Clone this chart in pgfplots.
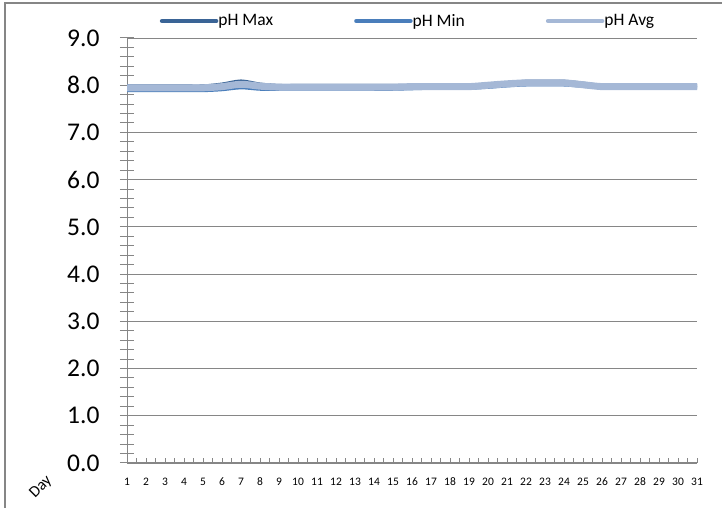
\documentclass[border=0pt]{standalone}
\usepackage{pgfplots}
\pgfplotsset{compat=1.18}
\usepackage{fontspec}
\setmainfont{Carlito}
\definecolor{phmax}{HTML}{3A6496}
\definecolor{phmin}{HTML}{4A7EBB}
\definecolor{phavg}{HTML}{A5B8D6}
\definecolor{axgray}{HTML}{868686}
\begin{document}
\begin{tikzpicture}
\path[use as bounding box] (0pt,0pt) rectangle (722pt,508pt);
% x axis with its short ticks and labels
\begin{axis}[
  at={(127pt,45pt)}, anchor=south west,
  scale only axis, width=570pt, height=425pt,
  xmin=1, xmax=31, ymin=0, ymax=9,
  axis x line*=bottom, axis y line=none,
  axis line style={axgray, line width=1pt},
  xtick={1,...,31},
  minor x tick num=1,
  xtick align=inside,
  major tick length=5pt, minor tick length=5pt,
  tick style={axgray, line width=1pt},
  x tick label style={font=\fontsize{11.5}{14}\selectfont, yshift=-11pt, text height=1.6ex, text depth=0pt},
  /pgf/number format/assume math mode=true,
]
\end{axis}
% main axis: y axis, grid and data
\begin{axis}[
  at={(127pt,45pt)}, anchor=south west,
  scale only axis, width=570pt, height=425pt,
  xmin=1, xmax=31, ymin=0, ymax=9,
  axis x line=none, axis y line*=left,
  axis line style={axgray, line width=1pt},
  xtick=\empty,
  ytick={0,1,...,9},
  minor y tick num=4,
  ymajorgrids,
  grid style={axgray, line width=0.8pt},
  major grid style={axgray, line width=0.8pt},
  ytick align=center,
  major tick length=14pt, minor tick length=14pt,
  tick style={axgray, line width=1pt},
  y tick label style={font=\fontsize{25.5}{30}\selectfont, xshift=-17pt},
  yticklabel style={/pgf/number format/.cd, fixed, fixed zerofill, precision=1},
  /pgf/number format/assume math mode=true,
  legend style={draw=none, fill=none, at={(0.493,1.04)}, anchor=center,
    font=\fontsize{17.5}{20}\selectfont, legend columns=3,
    /tikz/every odd column/.append style={column sep=-2pt},
    /tikz/every even column/.append style={column sep=79pt}},
  legend image code/.code={\draw[#1, line width=4.5pt, line cap=round] (0pt,0pt) -- (54pt,0pt);},
]
\addplot[phmax, line width=3.5pt, smooth, tension=0.5] coordinates {
(1,7.98)(2,7.98)(3,7.98)(4,7.98)(5,7.98)(6,8.02)(7,8.085)(8,8.02)(9,7.99)(10,7.99)
(11,7.99)(12,7.99)(13,7.99)(14,7.99)(15,7.99)(16,7.99)(17,7.99)(18,7.99)(19,7.99)(20,8.02)
(21,8.05)(22,8.08)(23,8.08)(24,8.08)(25,8.04)(26,7.99)(27,7.99)(28,7.99)(29,7.99)(30,7.99)(31,7.99)};
\addlegendentry{pH Max}
\addplot[phmin, line width=3.5pt, smooth, tension=0.5] coordinates {
(1,7.89)(2,7.89)(3,7.89)(4,7.89)(5,7.89)(6,7.91)(7,7.95)(8,7.92)(9,7.92)(10,7.92)
(11,7.92)(12,7.92)(13,7.92)(14,7.92)(15,7.92)(16,7.93)(17,7.94)(18,7.94)(19,7.94)(20,7.96)
(21,7.99)(22,8.01)(23,8.01)(24,8.01)(25,7.98)(26,7.95)(27,7.95)(28,7.95)(29,7.95)(30,7.95)(31,7.95)};
\addlegendentry{pH Min}
\addplot[phavg, line width=7pt, smooth, tension=0.5] coordinates {
(1,7.945)(2,7.945)(3,7.945)(4,7.945)(5,7.945)(6,7.97)(7,8.02)(8,7.98)(9,7.96)(10,7.96)
(11,7.96)(12,7.96)(13,7.96)(14,7.96)(15,7.96)(16,7.97)(17,7.97)(18,7.97)(19,7.97)(20,8.00)
(21,8.03)(22,8.05)(23,8.05)(24,8.05)(25,8.01)(26,7.97)(27,7.97)(28,7.97)(29,7.97)(30,7.97)(31,7.97)};
\addlegendentry{pH Avg}
\end{axis}
\draw[axgray,line width=2.5pt] (5pt,0pt) -- (5pt,505pt) -- (722pt,505pt);
\node[rotate=45, font=\fontsize{16}{18}\selectfont] at (41pt,21pt) {Day};
\end{tikzpicture}
\end{document}
